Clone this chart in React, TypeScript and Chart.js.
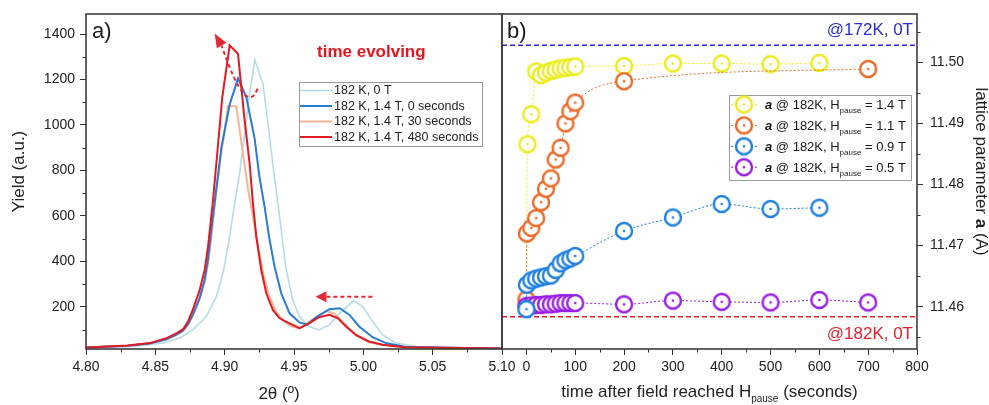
import React, { useEffect, useRef } from 'react';
import { Chart, registerables } from 'chart.js';

Chart.register(...registerables);

const FONT = '"Liberation Sans", Arial, Helvetica, sans-serif';

// ---------------- Panel a) : diffraction profiles ----------------
const A_LABELS = ['182 K, 0 T', '182 K, 1.4 T, 0 seconds', '182 K, 1.4 T, 30 seconds', '182 K, 1.4 T, 480 seconds'];
const A_COLORS = ['#b5dbe9', '#2a7bd4', '#f2b595', '#e01a22'];

const LB_X = [4.80, 4.834, 4.8556, 4.8676, 4.877, 4.8868, 4.894, 4.8993, 4.9036, 4.9072, 4.9108, 4.9144, 4.918, 4.9218, 4.9276, 4.931, 4.9348, 4.9396, 4.944, 4.949, 4.954, 4.961, 4.968, 4.9755, 4.983, 4.993, 4.9995, 5.0067, 5.014, 5.0235, 5.038, 5.07, 5.10];
const LB_Y = [20, 26, 41, 63, 99, 158, 245, 362, 509, 655, 790, 962, 1140, 1285, 1181, 1020, 825, 596, 377, 231, 158, 114, 99, 121, 172, 228, 202, 136, 77, 41, 26, 20, 18];

const BL_X = [4.80, 4.83, 4.846, 4.858, 4.8652, 4.870, 4.8736, 4.877, 4.882, 4.8856, 4.888, 4.890, 4.8928, 4.8976, 4.9036, 4.9096, 4.9156, 4.9216, 4.925, 4.9288, 4.932, 4.936, 4.9408, 4.9468, 4.954, 4.9595, 4.966, 4.9755, 4.983, 4.990, 4.997, 5.0067, 5.0163, 5.030, 5.06, 5.10];
const BL_Y = [22, 29, 39, 58, 78, 96, 125, 165, 240, 320, 410, 520, 660, 900, 1090, 1205, 1123, 940, 775, 640, 509, 377, 260, 172, 132, 122, 155, 190, 194, 165, 114, 67, 41, 25, 20, 17];

const OR_X = [4.80, 4.83, 4.846, 4.858, 4.8652, 4.870, 4.8736, 4.877, 4.882, 4.8856, 4.888, 4.890, 4.894, 4.8976, 4.9024, 4.9084, 4.9132, 4.917, 4.9215, 4.924, 4.928, 4.932, 4.937, 4.942, 4.948, 4.954, 4.961, 4.9735, 4.9795, 4.9875, 4.9947, 5.004, 5.014, 5.030, 5.06, 5.10];
const OR_Y = [22, 29, 39, 57, 76, 94, 120, 160, 235, 310, 390, 480, 713, 874, 1082, 1082, 874, 713, 560, 470, 340, 250, 180, 140, 115, 105, 135, 182, 170, 120, 75, 45, 32, 22, 19, 17];

const RD_X = [4.80, 4.83, 4.846, 4.858, 4.8652, 4.870, 4.8736, 4.877, 4.882, 4.8856, 4.888, 4.8916, 4.8983, 4.9036, 4.9096, 4.9144, 4.918, 4.9204, 4.9228, 4.9264, 4.930, 4.9348, 4.9396, 4.9468, 4.954, 4.961, 4.968, 4.9755, 4.9815, 4.9875, 4.9947, 5.004, 5.014, 5.030, 5.06, 5.10];
const RD_Y = [22, 30, 41, 63, 84, 102, 136, 187, 275, 362, 465, 669, 1123, 1350, 1313, 1020, 830, 655, 509, 362, 260, 187, 150, 128, 107, 128, 155, 165, 151, 114, 77, 48, 34, 23, 20, 17];

const A_X_TICKS = [4.80, 4.85, 4.90, 4.95, 5.00, 5.05, 5.10];
const A_X_MINOR = [4.825, 4.875, 4.925, 4.975, 5.025, 5.075];
const A_Y_TICKS = [200, 400, 600, 800, 1000, 1200, 1400];
const A_Y_MINOR = [100, 300, 500, 700, 900, 1100, 1300];

// annotation arrows (data coordinates): start, control, head base, tip
const A_ARROW_PEAK = [[4.9237, 1160], [4.9158, 1029], [4.8978, 1349], [4.8928, 1402]];
// start, head base, tip
const A_ARROW_SHOULDER = [[5.0065, 245], [4.9734, 245], [4.9655, 245]];

// ---------------- Panel b) : lattice parameter vs time ----------------
const B_FIELDS = ['1.4 T', '1.1 T', '0.9 T', '0.5 T'];
const B_COLORS = ['#ecec1c', '#ea6a28', '#1f80e0', '#9a1ee6'];

const YE_T = [0, 2, 10, 20, 30, 40, 50, 60, 70, 80, 90, 100, 200, 300, 400, 500, 600];
const YE_A = [11.4605, 11.4866, 11.4915, 11.4985, 11.4979, 11.4983, 11.4986, 11.4988, 11.4990, 11.4991, 11.4992, 11.4993, 11.4994, 11.4998, 11.4998, 11.4997, 11.4999];

const OG_T = [0, 1, 10, 20, 30, 40, 50, 60, 70, 80, 90, 100, 200, 700];
const OG_A = [11.4612, 11.4720, 11.4729, 11.4745, 11.4771, 11.4793, 11.4810, 11.4841, 11.4860, 11.4900, 11.4920, 11.4934, 11.4969, 11.4989];

const BU_T = [0, 1, 10, 20, 30, 40, 50, 60, 70, 80, 90, 100, 200, 300, 400, 500, 600];
const BU_A = [11.4596, 11.4636, 11.4643, 11.4646, 11.4648, 11.4650, 11.4651, 11.4660, 11.4671, 11.4676, 11.4679, 11.4683, 11.4724, 11.4746, 11.4768, 11.4760, 11.4762];

const PU_T = [0, 10, 20, 30, 40, 50, 60, 70, 80, 90, 100, 200, 300, 400, 500, 600, 700];
const PU_A = [11.4601, 11.4602, 11.4603, 11.4603, 11.4604, 11.4604, 11.4605, 11.4606, 11.4606, 11.4606, 11.4606, 11.4604, 11.4610, 11.4608, 11.4607, 11.4611, 11.4607];

const REF_172K = 11.50278;
const REF_182K = 11.45836;

const B_X_TICKS = [0, 100, 200, 300, 400, 500, 600, 700, 800];
const B_X_MINOR = [-50, 50, 150, 250, 350, 450, 550, 650, 750];
const B_Y_TICKS = [11.46, 11.47, 11.48, 11.49, 11.50];
const B_Y_MINOR = [11.455, 11.465, 11.475, 11.485, 11.495, 11.505];

// ---------------- helpers ----------------
const pts = (xs: number[], ys: number[]) => xs.map((x, i) => ({ x, y: ys[i] }));

type Seg = { text: string; font: string; dy?: number };
function rich(ctx: CanvasRenderingContext2D, segs: Seg[], x: number, y: number, align: 'left' | 'center' | 'right') {
  let total = 0;
  for (const s of segs) { ctx.font = s.font; total += ctx.measureText(s.text).width; }
  let cx = align === 'center' ? x - total / 2 : align === 'right' ? x - total : x;
  ctx.textAlign = 'left';
  for (const s of segs) {
    ctx.font = s.font;
    ctx.fillText(s.text, cx, y + (s.dy || 0));
    cx += ctx.measureText(s.text).width;
  }
}

function frame(chart: any) {
  const { ctx, chartArea: a } = chart;
  ctx.save();
  ctx.strokeStyle = '#3c3c3c';
  ctx.lineWidth = 1.6;
  ctx.strokeRect(a.left, a.top, a.right - a.left, a.bottom - a.top);
  ctx.restore();
}

function minorTicks(chart: any, axisId: string, values: number[], side: 'bottom' | 'left' | 'right') {
  const sc = chart.scales[axisId];
  const a = chart.chartArea;
  const ctx = chart.ctx as CanvasRenderingContext2D;
  ctx.save();
  ctx.strokeStyle = '#333';
  ctx.lineWidth = 1;
  ctx.beginPath();
  for (const v of values) {
    const p = Math.round(sc.getPixelForValue(v)) + 0.5;
    if (side === 'bottom') { ctx.moveTo(p, a.bottom); ctx.lineTo(p, a.bottom + 3.5); }
    else if (side === 'left') { ctx.moveTo(a.left - 3.5, p); ctx.lineTo(a.left, p); }
    else { ctx.moveTo(a.right, p); ctx.lineTo(a.right + 3.5, p); }
  }
  ctx.stroke();
  ctx.restore();
}

function arrowHead(ctx: CanvasRenderingContext2D, base: number[], tip: number[], w: number) {
  const dx = tip[0] - base[0], dy = tip[1] - base[1];
  const len = Math.hypot(dx, dy) || 1;
  const nx = -dy / len, ny = dx / len;
  ctx.beginPath();
  ctx.moveTo(tip[0], tip[1]);
  ctx.lineTo(base[0] + nx * w, base[1] + ny * w);
  ctx.lineTo(base[0] - nx * w, base[1] - ny * w);
  ctx.closePath();
  ctx.fill();
}

function makeMarker(color: string) {
  const c = document.createElement('canvas');
  c.width = 22; c.height = 22;
  const g = c.getContext('2d')!;
  g.beginPath(); g.arc(11, 11, 8, 0, Math.PI * 2);
  g.fillStyle = '#fff'; g.fill();
  g.lineWidth = 2.4; g.strokeStyle = color; g.stroke();
  g.beginPath(); g.arc(11, 11, 1.3, 0, Math.PI * 2);
  g.fillStyle = color; g.fill();
  return c;
}

const tickFont = { family: FONT, size: 14 };

export default function App() {
  const refA = useRef<HTMLCanvasElement>(null);
  const refB = useRef<HTMLCanvasElement>(null);

  useEffect(() => {
    const ARROW_COLOR = '#e22a34';
    const pluginA = {
      id: 'panelA',
      afterDraw(chart: any) {
        const { ctx, chartArea: a, scales } = chart;
        const P = (p: number[]) => [scales.x.getPixelForValue(p[0]), scales.y.getPixelForValue(p[1])];
        frame(chart);
        minorTicks(chart, 'x', A_X_MINOR, 'bottom');
        minorTicks(chart, 'y', A_Y_MINOR, 'left');

        // arrows
        ctx.save();
        ctx.strokeStyle = ARROW_COLOR; ctx.fillStyle = ARROW_COLOR; ctx.lineWidth = 2;
        ctx.setLineDash([4, 3]);
        const [s1, c1, b1, t1] = A_ARROW_PEAK.map(P);
        ctx.beginPath(); ctx.moveTo(s1[0], s1[1]); ctx.quadraticCurveTo(c1[0], c1[1], b1[0], b1[1]); ctx.stroke();
        const [s2, b2, t2] = A_ARROW_SHOULDER.map(P);
        ctx.beginPath(); ctx.moveTo(s2[0], s2[1]); ctx.lineTo(b2[0], b2[1]); ctx.stroke();
        ctx.setLineDash([]);
        arrowHead(ctx, b1, t1, 5.5);
        arrowHead(ctx, b2, t2, 5.5);
        ctx.restore();

        ctx.save();
        ctx.fillStyle = '#1a1a1a';
        ctx.textBaseline = 'alphabetic';
        ctx.font = `22px ${FONT}`;
        ctx.textAlign = 'left';
        ctx.fillText('a)', a.left + 6, a.top + 24);

        ctx.fillStyle = '#e4151f';
        ctx.font = `bold 17px ${FONT}`;
        ctx.textBaseline = 'middle';
        ctx.fillText('time evolving', 317, a.top + 38);

        // legend
        const bx = 299, by = 82, bw = 183, bh = 64;
        ctx.fillStyle = '#fff'; ctx.fillRect(bx, by, bw, bh);
        ctx.strokeStyle = '#9a9a9a'; ctx.lineWidth = 1; ctx.strokeRect(bx + 0.5, by + 0.5, bw, bh);
        A_LABELS.forEach((lab, i) => {
          const yy = by + 8.5 + i * 15.5;
          ctx.strokeStyle = A_COLORS[i]; ctx.lineWidth = i === 0 ? 1.6 : 2;
          ctx.beginPath(); ctx.moveTo(bx + 1, yy); ctx.lineTo(bx + 33, yy); ctx.stroke();
          ctx.fillStyle = '#222'; ctx.font = `12.5px ${FONT}`; ctx.textBaseline = 'middle'; ctx.textAlign = 'left';
          ctx.fillText(lab, bx + 35, yy + 0.5);
        });

        // axis titles
        ctx.fillStyle = '#222';
        ctx.textBaseline = 'alphabetic';
        rich(ctx, [{ text: '2θ (º)', font: `17px ${FONT}` }], a.left + 193, a.bottom + 50, 'center');
        ctx.translate(19, (a.top + a.bottom) / 2 - 10);
        ctx.rotate(-Math.PI / 2);
        ctx.textBaseline = 'middle';
        rich(ctx, [{ text: 'Yield (a.u.)', font: `17px ${FONT}` }], 0, 0, 'center');
        ctx.restore();
      },
    };

    const chartA = new Chart(refA.current!, {
      type: 'line',
      data: {
        datasets: [
          { label: A_LABELS[3], data: pts(RD_X, RD_Y), borderColor: A_COLORS[3], borderWidth: 2, pointRadius: 0, tension: 0, order: 0 },
          { label: A_LABELS[1], data: pts(BL_X, BL_Y), borderColor: A_COLORS[1], borderWidth: 2, pointRadius: 0, tension: 0, order: 1 },
          { label: A_LABELS[2], data: pts(OR_X, OR_Y), borderColor: A_COLORS[2], borderWidth: 2, pointRadius: 0, tension: 0, order: 2 },
          { label: A_LABELS[0], data: pts(LB_X, LB_Y), borderColor: A_COLORS[0], borderWidth: 1.6, pointRadius: 0, tension: 0, order: 3 },
        ],
      },
      options: {
        responsive: false,
        animation: false,
        events: [],
        layout: { padding: { left: 0, top: 14, right: 487, bottom: 0 } },
        plugins: { legend: { display: false }, tooltip: { enabled: false } },
        scales: {
          x: {
            type: 'linear', min: 4.80, max: 5.10,
            afterBuildTicks: (s: any) => { s.ticks = A_X_TICKS.map((v) => ({ value: v })); },
            afterFit: (s: any) => { s.height = 56; s.paddingLeft = 0; s.paddingRight = 0; },
            ticks: { callback: (v: any) => Number(v).toFixed(2), font: tickFont, color: '#222', padding: 4, maxRotation: 0, minRotation: 0, autoSkip: false },
            grid: { drawOnChartArea: false, tickLength: 6, color: '#333' },
            border: { display: false },
          },
          y: {
            type: 'linear', min: 15, max: 1488,
            afterBuildTicks: (s: any) => { s.ticks = A_Y_TICKS.map((v) => ({ value: v })); },
            afterFit: (s: any) => { s.width = 86; s.paddingTop = 0; s.paddingBottom = 0; },
            ticks: { callback: (v: any) => String(Math.round(Number(v))), font: tickFont, color: '#222', padding: 5, autoSkip: false },
            grid: { drawOnChartArea: false, tickLength: 6, color: '#333' },
            border: { display: false },
          },
        },
      } as any,
      plugins: [pluginA],
    });

    const markers = B_COLORS.map(makeMarker);
    const pluginB = {
      id: 'panelB',
      afterDraw(chart: any) {
        const { ctx, chartArea: a } = chart;
        frame(chart);
        minorTicks(chart, 'x', B_X_MINOR, 'bottom');
        minorTicks(chart, 'y', B_Y_MINOR, 'right');
        ctx.save();
        ctx.fillStyle = '#1a1a1a';
        ctx.textBaseline = 'alphabetic';
        ctx.textAlign = 'left';
        ctx.font = `22px ${FONT}`;
        ctx.fillText('b)', a.left + 5, a.top + 24);

        ctx.textBaseline = 'middle';
        ctx.textAlign = 'right';
        ctx.font = `17px ${FONT}`;
        ctx.fillStyle = '#2b2bd0';
        ctx.fillText('@172K, 0T', a.right - 4, a.top + 16);
        ctx.fillStyle = '#e21f2b';
        ctx.fillText('@182K, 0T', a.right - 4, a.bottom - 15);

        // legend
        const bx = 729, by = 95, bw = 182, bh = 85;
        ctx.fillStyle = '#fff'; ctx.fillRect(bx, by, bw, bh);
        ctx.strokeStyle = '#9a9a9a'; ctx.lineWidth = 1; ctx.strokeRect(bx + 0.5, by + 0.5, bw, bh);
        B_FIELDS.forEach((f, i) => {
          const yy = by + 9.5 + i * 20.9;
          ctx.save();
          ctx.strokeStyle = B_COLORS[i]; ctx.lineWidth = 1; ctx.setLineDash([2, 2]);
          ctx.beginPath(); ctx.moveTo(bx + 2, yy); ctx.lineTo(bx + 30, yy); ctx.stroke();
          ctx.restore();
          const m = markers[i];
          ctx.drawImage(m, bx + 15 - m.width / 2, yy - m.height / 2);
          ctx.fillStyle = '#1a1a1a';
          ctx.textBaseline = 'alphabetic';
          rich(ctx, [
            { text: 'a', font: `italic bold 13px ${FONT}` },
            { text: ' @ 182K, H', font: `13px ${FONT}` },
            { text: 'pause', font: `8px ${FONT}`, dy: 4 },
            { text: ` = ${f}`, font: `13px ${FONT}` },
          ], bx + 36, yy + 4.5, 'left');
        });

        // axis titles
        ctx.fillStyle = '#222';
        ctx.textBaseline = 'alphabetic';
        rich(ctx, [
          { text: 'time after field reached H', font: `17px ${FONT}` },
          { text: 'pause', font: `10px ${FONT}`, dy: 5 },
          { text: ' (seconds)', font: `17px ${FONT}` },
        ], (a.left + a.right) / 2, a.bottom + 48, 'center');
        ctx.translate(a.right + 64, (a.top + a.bottom) / 2 - 10);
        ctx.rotate(Math.PI / 2);
        ctx.textBaseline = 'middle';
        rich(ctx, [
          { text: 'lattice parameter ', font: `17px ${FONT}` },
          { text: 'a', font: `bold 17px ${FONT}` },
          { text: ' (A)', font: `17px ${FONT}` },
        ], 0, 0, 'center');
        ctx.restore();
      },
    };

    const series = (t: number[], v: number[], i: number, order: number) => ({
      label: `a @ 182K, Hpause = ${B_FIELDS[i]}`,
      data: pts(t, v),
      borderColor: B_COLORS[i],
      borderWidth: 1,
      borderDash: [2, 2],
      pointStyle: markers[i],
      pointRadius: 9,
      cubicInterpolationMode: 'monotone',
      order,
    });

    const chartB = new Chart(refB.current!, {
      type: 'line',
      data: {
        datasets: [
          series(YE_T, YE_A, 0, 3),
          series(OG_T, OG_A, 1, 2),
          series(BU_T, BU_A, 2, 0),
          series(PU_T, PU_A, 3, 1),
          { label: 'ref172', data: [{ x: -50, y: REF_172K }, { x: 800, y: REF_172K }], borderColor: '#2b2bd0', borderWidth: 1.6, borderDash: [5, 3], pointRadius: 0, order: 5 },
          { label: 'ref182', data: [{ x: -50, y: REF_182K }, { x: 800, y: REF_182K }], borderColor: '#e21f2b', borderWidth: 1.6, borderDash: [5, 3], pointRadius: 0, order: 5 },
        ],
      },
      options: {
        responsive: false,
        animation: false,
        events: [],
        layout: { padding: { left: 502, top: 14, right: 0, bottom: 0 } },
        plugins: { legend: { display: false }, tooltip: { enabled: false } },
        scales: {
          x: {
            type: 'linear', min: -50, max: 800,
            afterBuildTicks: (s: any) => { s.ticks = B_X_TICKS.map((v) => ({ value: v })); },
            afterFit: (s: any) => { s.height = 56; s.paddingLeft = 0; s.paddingRight = 0; },
            ticks: { callback: (v: any) => String(Math.round(Number(v))), font: tickFont, color: '#222', padding: 4, maxRotation: 0, minRotation: 0, autoSkip: false },
            grid: { drawOnChartArea: false, tickLength: 6, color: '#333' },
            border: { display: false },
          },
          y: {
            type: 'linear', position: 'right', min: 11.45308, max: 11.5079,
            afterBuildTicks: (s: any) => { s.ticks = B_Y_TICKS.map((v) => ({ value: v })); },
            afterFit: (s: any) => { s.width = 72; s.paddingTop = 0; s.paddingBottom = 0; },
            ticks: { callback: (v: any) => Number(v).toFixed(2), font: tickFont, color: '#222', padding: 7, autoSkip: false },
            grid: { drawOnChartArea: false, tickLength: 6, color: '#333' },
            border: { display: false },
          },
        },
      } as any,
      plugins: [pluginB],
    });

    return () => { chartA.destroy(); chartB.destroy(); };
  }, []);

  const cs: React.CSSProperties = { position: 'absolute', left: 0, top: 0, width: 989, height: 405 };
  return (
    <div style={{ position: 'fixed', left: 0, top: 0, width: 989, height: 405, background: '#fff', overflow: 'hidden' }}>
      <canvas ref={refA} width={989} height={405} style={cs} />
      <canvas ref={refB} width={989} height={405} style={cs} />
    </div>
  );
}
